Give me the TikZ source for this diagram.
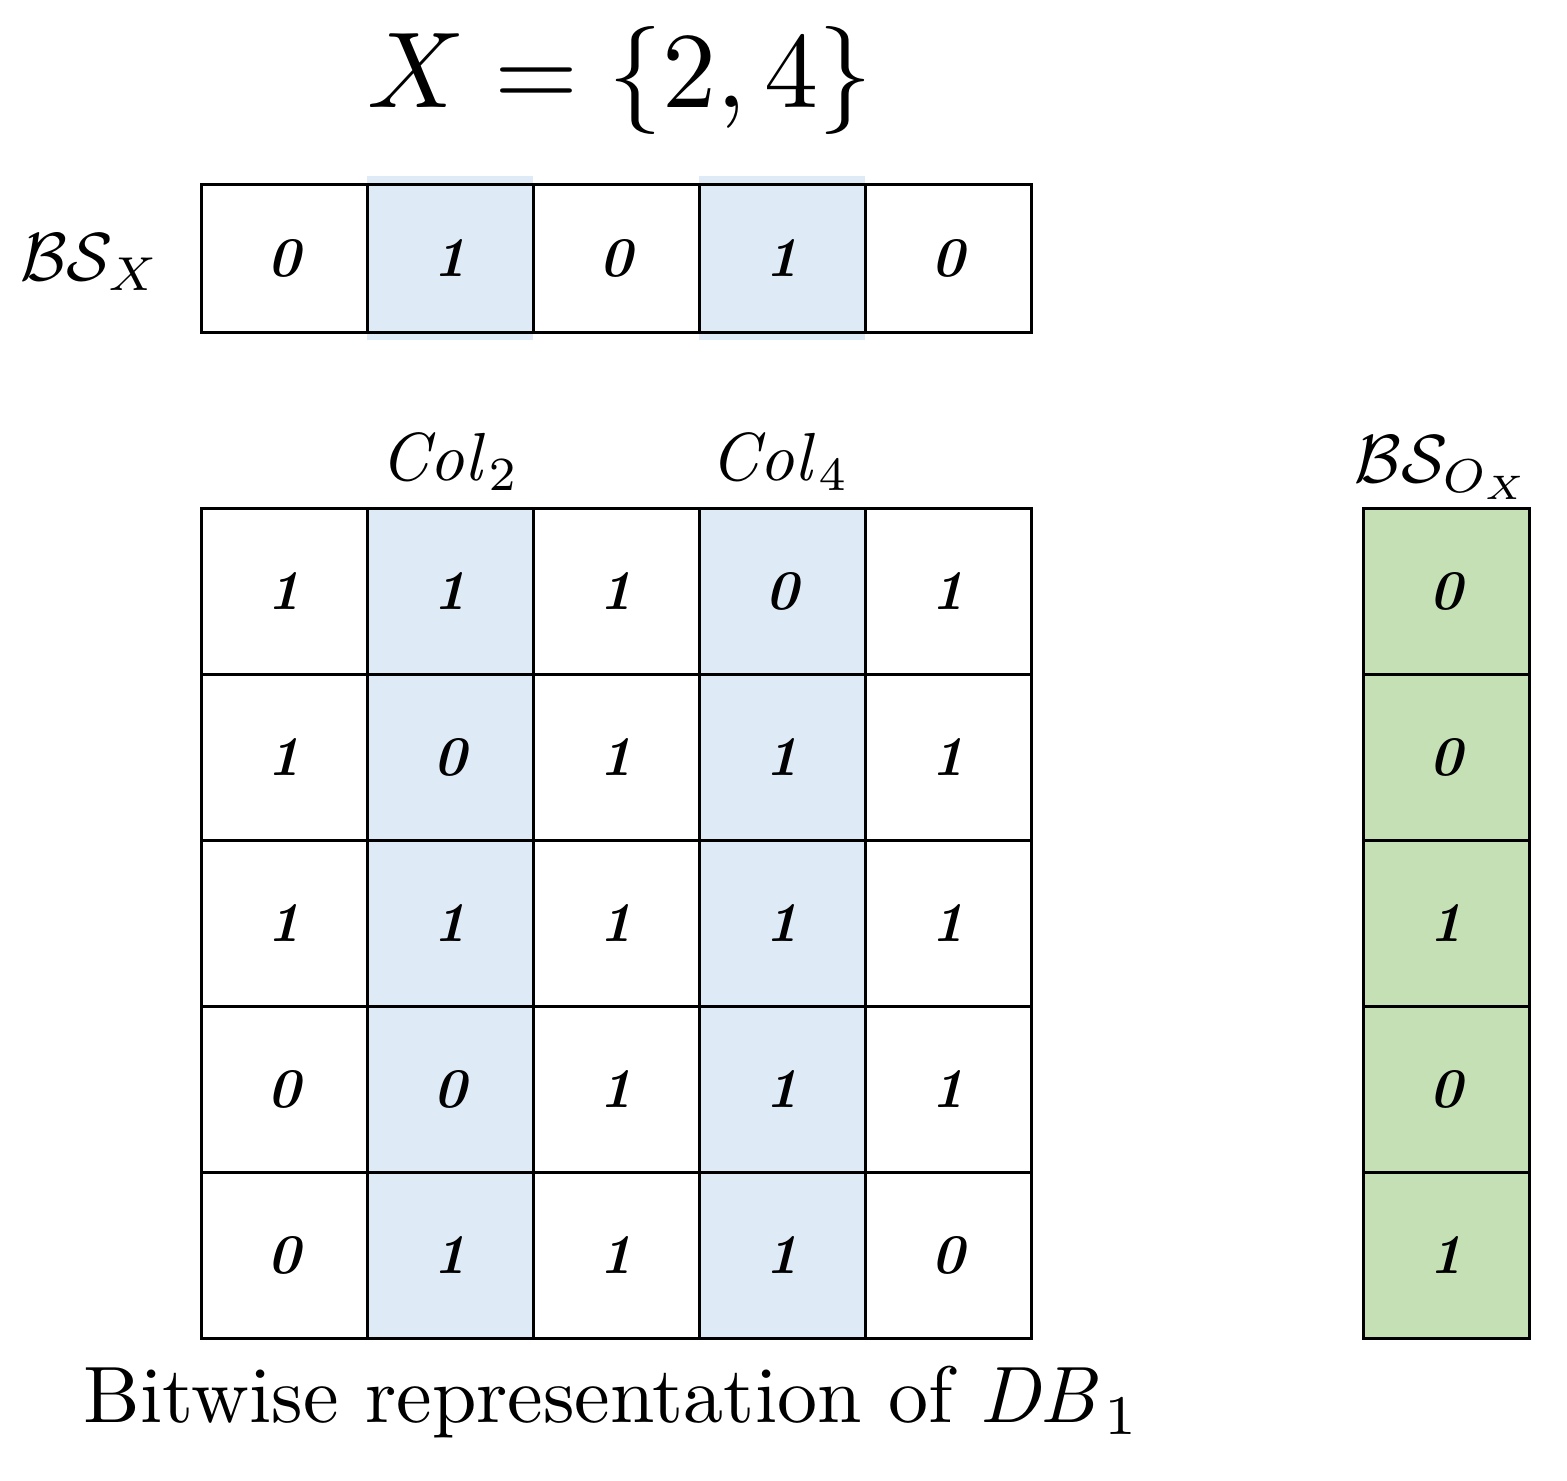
\documentclass[tikz,border=0pt]{standalone}
\usepackage{amsmath}
\begin{document}
\begin{tikzpicture}[x=0.5pt,y=-0.5pt,
  cell/.style={draw=black,line width=1.5pt},
  dig/.style={scale=2.8,font=\bfseries\itshape},
  lab/.style={scale=3.4}]
\definecolor{bl}{RGB}{222,235,247}
\definecolor{gr}{RGB}{197,224,180}
\useasboundingbox (0,0) rectangle (1567,1480);
\node[scale=5.4] (title) at (620,80) {$X=\{2,4\}$};
% top highlights
\fill[bl] (367,176) rectangle (533,340);
\fill[bl] (699,176) rectangle (865,340);
\fill[bl] (367,508) rectangle (533,1338);
\fill[bl] (699,508) rectangle (865,1338);
\fill[gr] (1363,508) rectangle (1529,1338);
% top row
\foreach \v [count=\i from 0] in {0,1,0,1,0}{
  \draw[cell] (201+166*\i,184) rectangle (367+166*\i,332);
  \node[dig] (t\i) at (284+166*\i,258) {\v};
}
\node[lab] (bsx) at (90,262) {$\mathcal{B}\mathcal{S}_X$};
\node[lab] (c2) at (450,462) {$\mathit{Col}_2$};
\node[lab] (c4) at (780,462) {$\mathit{Col}_4$};
\node[lab] (bso) at (1443,468) {$\mathcal{B}\mathcal{S}_{O_X}$};
% grid
\foreach \row [count=\r from 0] in {{1,1,1,0,1},{1,0,1,1,1},{1,1,1,1,1},{0,0,1,1,1},{0,1,1,1,0}}{
  \foreach \v [count=\i from 0] in \row {
    \draw[cell] (201+166*\i,508+166*\r) rectangle (367+166*\i,674+166*\r);
    \node[dig] (g\r\i) at (284+166*\i,591+166*\r) {\v};
  }
}
\foreach \v [count=\r from 0] in {0,0,1,0,1}{
  \draw[cell] (1363,508+166*\r) rectangle (1529,674+166*\r);
  \node[dig] (o\r) at (1446,591+166*\r) {\v};
}
\node[scale=4] (cap) at (612,1402) {Bitwise representation of $\mathit{DB}_1$};
\end{tikzpicture}
\end{document}
